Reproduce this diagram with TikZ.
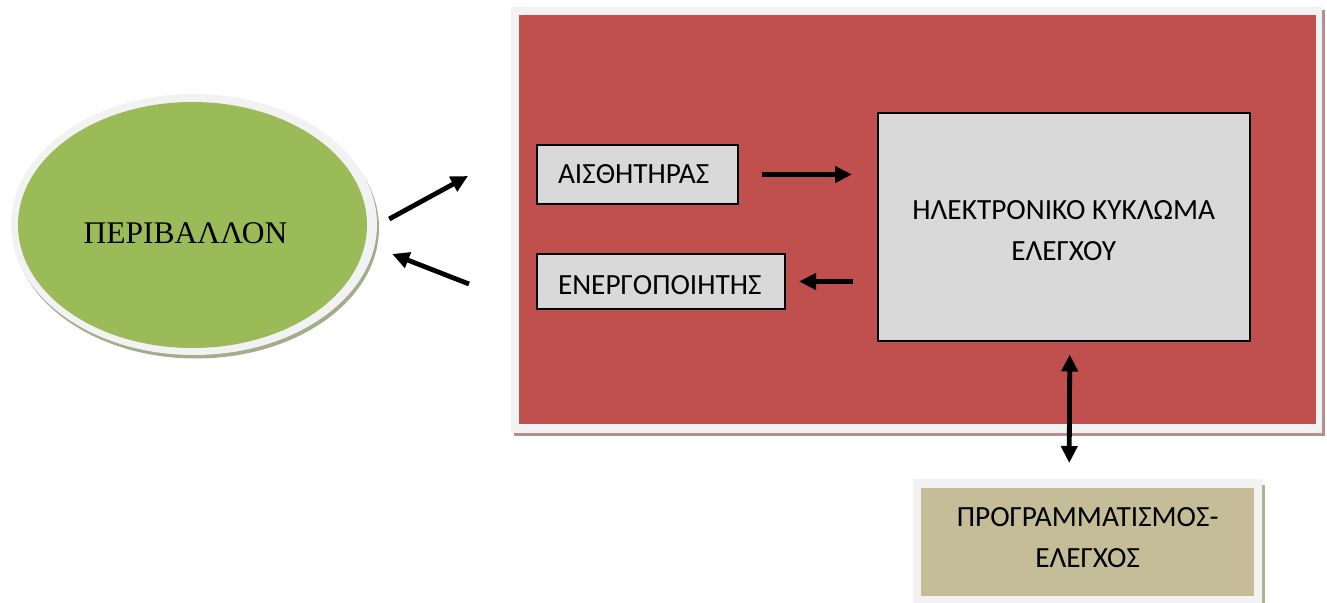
\documentclass[tikz,border=0pt]{standalone}
\usepackage{fontspec}
\setmainfont{Carlito}
\newfontfamily\grserif{Liberation Serif}
\usetikzlibrary{arrows.meta,shapes.geometric}
\definecolor{redbg}{HTML}{C0504D}
\definecolor{framegray}{HTML}{F2F2F2}
\definecolor{redshadow}{HTML}{B58E90}
\definecolor{greenfill}{HTML}{9BBB59}
\definecolor{greenshadow}{HTML}{A3AC8C}
\definecolor{khaki}{HTML}{C4BD97}
\definecolor{khakishadow}{HTML}{A8B394}
\definecolor{boxgray}{HTML}{D9D9D9}
\begin{document}
\begin{tikzpicture}[x=1pt,y=-1pt,
  arr/.style={line width=4.8pt,-{Triangle[length=17pt,width=16pt]}},
  darr/.style={line width=4.8pt,{Triangle[length=17pt,width=16pt]}-{Triangle[length=17pt,width=16pt]}},
  txt/.style={font=\fontsize{29.3}{41}\selectfont},
  graybox/.style={txt,draw=black,line width=2pt,fill=boxgray,inner ysep=0pt,inner xsep=21pt,align=left,text depth=0pt,anchor=north west}]
\useasboundingbox (0,0) rectangle (1327,602);
% environment ellipse
\fill[greenshadow] (196,228) ellipse [x radius=183, y radius=130.5];
\fill[framegray] (194,224.5) ellipse [x radius=183, y radius=130.5];
\node[ellipse, fill=greenfill, minimum width=349pt, minimum height=246pt, inner sep=0pt,
  font=\grserif\fontsize{31.5}{36}\selectfont, text height=36pt, text depth=0pt] (env) at (192.5,225) {ΠΕΡΙΒΑΛΛΟΝ\hspace*{14pt}};
% system frame
\fill[redshadow] (514,10) rectangle (1325,436);
\fill[framegray] (511,7) rectangle (1322,433);
\node[fill=redbg, inner sep=0pt, minimum width=797pt, minimum height=409pt, anchor=north west] (sys) at (519,15) {};
% inner boxes
\node[graybox, text width=159pt, minimum height=59pt, text height=17pt] (sens) at (536,144) {ΑΙΣΘΗΤΗΡΑΣ};
\node[graybox, text width=206pt, minimum height=55pt, text height=25pt] (act) at (536,253) {ΕΝΕΡΓΟΠΟΙΗΤΗΣ};
\node[draw=black, line width=1.5pt, fill=boxgray, minimum width=372pt, minimum height=228pt, anchor=north west,
  label={[txt,align=center,yshift=-4pt]center:ΗΛΕΚΤΡΟΝΙΚΟ ΚΥΚΛΩΜΑ\\ΕΛΕΓΧΟΥ}] (ctrl) at (877,112) {};
% programming box
\fill[framegray] (913,479) rectangle (1262,606);
\fill[khakishadow] (1262,485) rectangle (1265,606);
\node[fill=khaki, minimum width=333pt, minimum height=108pt, anchor=north west,
  label={[txt,align=center,yshift=5pt]center:ΠΡΟΓΡΑΜΜΑΤΙΣΜΟΣ-\\ΕΛΕΓΧΟΣ}] (prog) at (921,488) {};
% connectors
\coordinate (out1) at (468,176);
\coordinate (in1) at (469,284);
\draw[arr] ([xshift=22pt,yshift=6pt]env.east) -- (out1);
\draw[arr] (in1) -- ([xshift=25pt,yshift=-29pt]env.east);
\draw[arr] ([xshift=23pt]sens.east) -- ([xshift=-25pt]ctrl.west |- sens.east);
\draw[arr] ([xshift=-24pt]ctrl.west |- act.east) -- ([xshift=13pt]act.east);
\draw[darr] ([xshift=6pt,yshift=-13pt]ctrl.south) -- ([xshift=-18.5pt,yshift=25pt]prog.north);
\end{tikzpicture}
\end{document}
